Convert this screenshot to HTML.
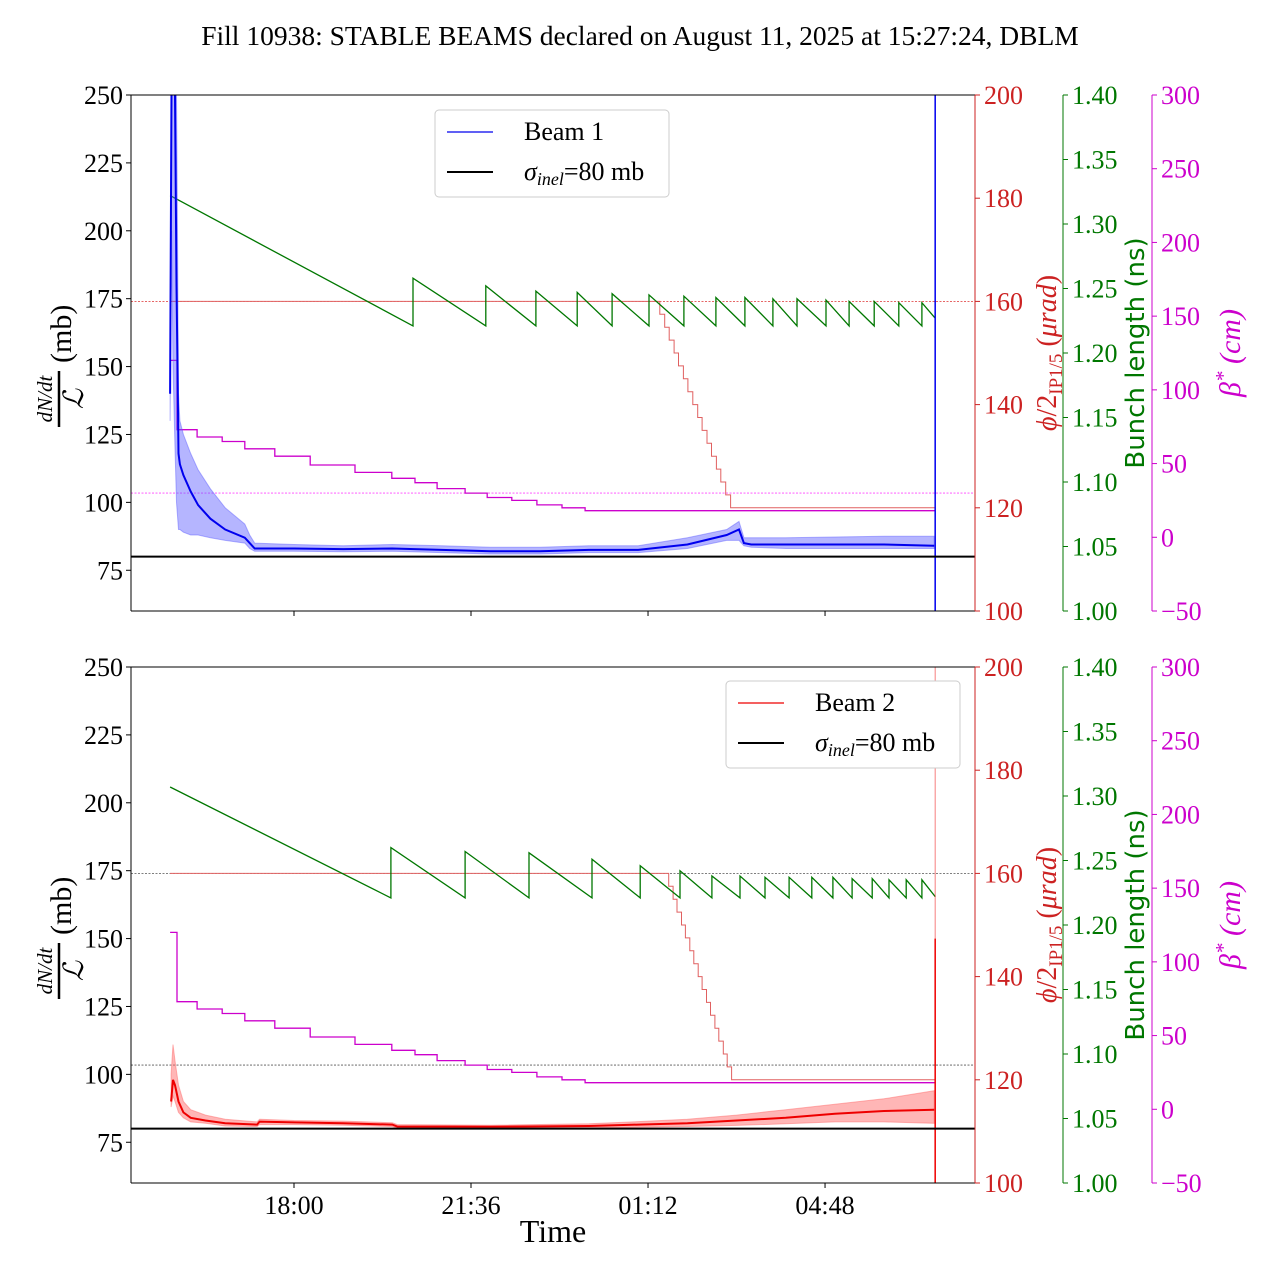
<!DOCTYPE html>
<html><head><meta charset="utf-8"><style>
html,body{margin:0;padding:0;background:#fff;}
svg{display:block;font-family:"Liberation Serif",serif;}
</style></head><body>
<svg id="chart" width="1280" height="1280" viewBox="0 0 1280 1280" xmlns="http://www.w3.org/2000/svg">
<text x="640" y="45" text-anchor="middle" font-size="27.5">Fill 10938: STABLE BEAMS declared on August 11, 2025 at 15:27:24, DBLM</text>
</svg>
<script>
// ---- data (time in hours relative to 18:00) ----
const xTickLabels = ["18:00","21:36","01:12","04:48"];
const xTickHours = [0, 3.6, 7.2, 10.8];
const leftTicks = [75,100,125,150,175,200,225,250];
const redTicks = [100,120,140,160,180,200];
const greenTicks = [1.00,1.05,1.10,1.15,1.20,1.25,1.30,1.35,1.40];
const magTicks = [-50,0,50,100,150,200,250,300];

const b1Times = [-2.52,-2.49,-2.46,-2.42,-2.39,-2.37,-2.35,-2.32,-2.25,-2.1,-1.95,-1.7,-1.4,-1.0,-0.9,-0.8,0,1,2,3,4,5,6,7,8,8.8,9.05,9.15,9.3,10,12,13.02];
const b1Values = [140,260,260,250,180,150,118,114,110,104,99,94,90,87,85,83,83,82.8,83,82.5,82,82,82.5,82.5,84.5,88,90,85,84.5,84.5,84.5,84];
const b1Lo = [130,200,150,120,100,95,90,90,89,88,88,87,86,85,83,82,82,81.8,82,81.5,81,81,81.5,81.5,83,86,86,84,83.5,83,83,83];
const b1Hi = [150,280,280,280,250,200,140,130,125,118,112,105,98,92,88,85,84.5,84,84.5,84,83.5,83.5,84,84,87,90,93,87,87,87,87.5,87.5];

const b2Times = [-2.50,-2.46,-2.42,-2.35,-2.25,-2.1,-1.8,-1.4,-0.75,-0.7,0,1,2,2.1,4,6,7,8,9,10,11,12,13.02];
const b2Values = [90,98,96,90,86,84,83,82,81.5,82.6,82.3,82,81.5,80.8,80.7,81,81.5,82,83,84,85.5,86.5,87];
const b2Lo = [88,92,90,86,84,82.5,82,81,80.8,81.5,81.5,81.3,80.8,80.2,80.2,80.3,80.5,80.8,81.2,81.8,82.5,82.5,82];
const b2Hi = [100,111,105,96,90,87,85,83.5,82.5,83.5,83,82.8,82.2,81.5,81.3,81.8,82.6,83.5,85,87,89,91,94];

const g1Times = [-2.52,2.42,2.42,3.9,3.9,4.92,4.92,5.76,5.76,6.47,6.47,7.22,7.22,7.93,7.93,8.58,8.58,9.17,9.17,9.74,9.74,10.23,10.23,10.82,10.82,11.29,11.29,11.8,11.8,12.3,12.3,12.77,12.77,13.04];
const g1Values = [1.322,1.221,1.258,1.221,1.252,1.221,1.248,1.221,1.247,1.221,1.246,1.221,1.245,1.221,1.244,1.221,1.243,1.221,1.243,1.221,1.242,1.221,1.242,1.221,1.241,1.221,1.240,1.221,1.240,1.221,1.239,1.221,1.239,1.227];
const g2Times = [-2.52,1.97,1.97,3.48,3.48,4.78,4.78,6.06,6.06,7.04,7.04,7.85,7.85,8.5,8.5,9.07,9.07,9.58,9.58,10.07,10.07,10.53,10.53,10.96,10.96,11.35,11.35,11.76,11.76,12.1,12.1,12.45,12.45,12.77,12.77,13.04];
const g2Values = [1.307,1.221,1.260,1.221,1.257,1.221,1.256,1.221,1.251,1.221,1.246,1.221,1.242,1.221,1.238,1.221,1.238,1.221,1.237,1.221,1.237,1.221,1.237,1.221,1.237,1.221,1.236,1.221,1.236,1.221,1.235,1.221,1.235,1.221,1.235,1.222];

const x1Times = [-2.52,7.44,7.54,7.63,7.73,7.82,7.92,8.01,8.11,8.21,8.30,8.40,8.49,8.59,8.68,8.78,8.88,8.97,13.04];
const x1Values = [160,157.5,155,152.5,150,147.5,145,142.5,140,137.5,135,132.5,130,127.5,125,122.5,120,120];
const x2Times = [-2.52,7.62,7.71,7.79,7.88,7.96,8.05,8.13,8.22,8.30,8.39,8.47,8.56,8.64,8.73,8.81,8.90,8.97,13.04];
const x2Values = [160,157.5,155,152.5,150,147.5,145,142.5,140,137.5,135,132.5,130,127.5,125,122.5,120,120];

const bTimes = [-2.52,-2.38,-1.97,-1.46,-1.0,-0.39,0.33,1.24,1.99,2.46,2.91,3.48,3.93,4.43,4.94,5.45,5.92,13.04];
const bValues = [120,73,68,65,60,55,49,44,40,37,33,30,27,25,22,20,18];

// ---- layout ----
const svg = document.getElementById('chart');
const NS = 'http://www.w3.org/2000/svg';
const X0 = 131, X1 = 975;
function xs(h){ return 294 + h*49.17; }
function mk(tag, attrs, parent){
  const e = document.createElementNS(NS, tag);
  for (const k in attrs) e.setAttribute(k, attrs[k]);
  (parent||svg).appendChild(e);
  return e;
}
function scale(lo, hi, top){ return v => top + (hi - v)/(hi - lo)*516; }
function stepPath(ts, vs, sy){
  let d = 'M'+xs(ts[0]).toFixed(1)+','+sy(vs[0]).toFixed(1);
  for (let i=1;i<ts.length;i++){
    d += 'L'+xs(ts[i]).toFixed(1)+','+sy(vs[i-1]).toFixed(1);
    if (i<vs.length) d += 'L'+xs(ts[i]).toFixed(1)+','+sy(vs[i]).toFixed(1);
  }
  return d;
}
function linePath(ts, vs, sy){
  return ts.map((t,i)=>(i?'L':'M')+xs(t).toFixed(1)+','+sy(vs[i]).toFixed(1)).join('');
}
function bandPath(ts, lo, hi, sy){
  let d = ts.map((t,i)=>(i?'L':'M')+xs(t).toFixed(1)+','+sy(hi[i]).toFixed(1)).join('');
  for (let i=ts.length-1;i>=0;i--) d += 'L'+xs(ts[i]).toFixed(1)+','+sy(lo[i]).toFixed(1);
  return d+'Z';
}

function panel(top, cfg){
  const g = mk('g', {});
  
  
  const clipId = 'clip'+top;
  const cp = mk('clipPath', {id: clipId}, g);
  mk('rect', {x:X0, y:top, width:X1-X0, height:516}, cp);
  const L = scale(60, 250, top), R = scale(100, 200, top), G = scale(1.0, 1.4, top), M = scale(-50, 300, top);
  const plot = mk('g', {'clip-path':'url(#'+clipId+')'}, g);

  const r1 = mk('line', {x1:X0, x2:X1, y1:R(160), y2:R(160), stroke:cfg.ref1, 'stroke-width':0.8, 'stroke-dasharray':'2,1.5'}, plot);
  
  
  const r2 = mk('line', {x1:X0, x2:X1, y1:M(30), y2:M(30), stroke:cfg.ref2, 'stroke-width':0.8, 'stroke-dasharray':'2,1.5'}, plot);
  
  

  const xa = mk('path', {d: stepPath(cfg.xt, cfg.xv, R), fill:'none', stroke:'#e06060', 'stroke-width':1}, plot);
  
  
  const bs = mk('path', {d: stepPath(bTimes, bValues, M), fill:'none', stroke:'#cc00cc', 'stroke-width':1.3}, plot);
  
  
  const gl = mk('path', {d: linePath(cfg.gt, cfg.gv, G), fill:'none', stroke:'#007700', 'stroke-width':1.3}, plot);
  
  
  const bd = mk('path', {d: bandPath(cfg.bt, cfg.blo, cfg.bhi, L), fill:cfg.band, stroke:cfg.band, 'stroke-width':1}, plot);
  
  
  const bl = mk('path', {d: linePath(cfg.bt, cfg.bv, L), fill:'none', stroke:cfg.col, 'stroke-width':2}, plot);
  
  
  const ve = mk('line', {x1:xs(13.04), x2:xs(13.04), y1:top, y2:top+516, stroke:cfg.col, 'stroke-width':1, opacity:0.5}, plot);
  
  
  const vs = mk('line', {x1:xs(13.04), x2:xs(13.04), y1:L(cfg.spike), y2:L(60), stroke:cfg.col, 'stroke-width':1.5}, plot);
  
  
  const sl = mk('line', {x1:X0, x2:X1, y1:L(80), y2:L(80), stroke:'#000', 'stroke-width':2}, plot);
  
  

  mk('line', {x1:X0, x2:X1, y1:top, y2:top, stroke:'#000', 'stroke-width':1}, g);
  mk('line', {x1:X0, x2:X1, y1:top+516, y2:top+516, stroke:'#000', 'stroke-width':1}, g);
  mk('line', {x1:X0, x2:X0, y1:top, y2:top+516, stroke:'#000', 'stroke-width':1}, g);
  leftTicks.forEach(v=>{
    mk('line', {x1:X0-5, x2:X0, y1:L(v), y2:L(v), stroke:'#000'}, g);
    const t = mk('text', {x:X0-8, y:L(v)+9, 'text-anchor':'end', 'font-size':26}, g);
    t.textContent = v;
    
    
  });
  xTickHours.forEach((h,i)=>{
    mk('line', {x1:xs(h), x2:xs(h), y1:top+516, y2:top+521, stroke:'#000'}, g);
    if (cfg.labels){
      const t = mk('text', {x:xs(h), y:top+516+31, 'text-anchor':'middle', 'font-size':26}, g);
      t.textContent = xTickLabels[i];
      
      
    }
  });
  const axes = [
    {x:975, ticks:redTicks, s:R, col:'#cc2222', fmt:v=>v, name:'crossing-axis'},
    {x:1063, ticks:greenTicks, s:G, col:'#007700', fmt:v=>v.toFixed(2), name:'bunch-length-axis'},
    {x:1152, ticks:magTicks, s:M, col:'#cc00cc', fmt:v=>(v<0?'\u2212'+(-v):v), name:'beta-star-axis'}
  ];
  axes.forEach(a=>{
    mk('line', {x1:a.x, x2:a.x, y1:top, y2:top+516, stroke:a.col, 'stroke-width':1}, g);
    a.ticks.forEach(v=>{
      mk('line', {x1:a.x, x2:a.x+5, y1:a.s(v), y2:a.s(v), stroke:a.col}, g);
      const t = mk('text', {x:a.x+9, y:a.s(v)+9, 'font-size':26, fill:a.col}, g);
      t.textContent = a.fmt(v);
      
      
    });
  });
  const yl = mk('g', {transform:'translate(62,'+(top+262)+') rotate(-90)'}, g);
  
  
  const n1 = mk('text', {x:-42, y:-10, 'text-anchor':'middle', 'font-size':21, 'font-style':'italic'}, yl); n1.textContent = 'dN/dt';
  mk('line', {x1:-70, x2:-14, y1:-3, y2:-3, stroke:'#000', 'stroke-width':2.5}, yl);
  const n2 = mk('text', {x:-42, y:21, 'text-anchor':'middle', 'font-size':28, 'font-style':'italic'}, yl); n2.textContent = '\u2112';
  const n3 = mk('text', {x:-6, y:9, 'font-size':30}, yl); n3.textContent = '(mb)';
  const rl = mk('text', {transform:'translate(1056,'+(top+258)+') rotate(-90)', 'text-anchor':'middle', 'font-size':28, fill:'#cc2222'}, g);
  rl.innerHTML = '<tspan font-style="italic">\u03d5</tspan>/2<tspan font-size="19" dy="6">IP1/5</tspan><tspan dy="-6"> (</tspan><tspan font-style="italic">\u03bcrad</tspan>)';
  
  
  const gt = mk('text', {transform:'translate(1144,'+(top+258)+') rotate(-90)', 'text-anchor':'middle', 'font-size':26, fill:'#007700', 'font-family':'"DejaVu Sans",sans-serif'}, g);
  gt.textContent = 'Bunch length (ns)';
  
  
  const mt = mk('text', {transform:'translate(1240,'+(top+258)+') rotate(-90)', 'text-anchor':'middle', 'font-size':30, fill:'#cc00cc', 'font-style':'italic'}, g);
  mt.innerHTML = '\u03b2<tspan dy="-10" font-size="21">*</tspan><tspan dy="10"> (cm)</tspan>';
  
  
  const lg = mk('g', {}, g);
  
  
  const lx = cfg.lx, ly = top + cfg.ly;
  mk('rect', {x:lx, y:ly, width:234, height:87, rx:4, fill:'#fff', stroke:'#ccc', 'stroke-width':1}, lg);
  mk('line', {x1:lx+12, x2:lx+58, y1:ly+22, y2:ly+22, stroke:cfg.col, 'stroke-width':1.2}, lg);
  const e1 = mk('text', {x:lx+89, y:ly+30, 'font-size':26}, lg); e1.textContent = cfg.label;
  
  
  mk('line', {x1:lx+12, x2:lx+58, y1:ly+62, y2:ly+62, stroke:'#000', 'stroke-width':2}, lg);
  const e2 = mk('text', {x:lx+89, y:ly+70, 'font-size':26}, lg);
  e2.innerHTML = '<tspan font-style="italic">\u03c3</tspan><tspan font-style="italic" font-size="18" dy="5">inel</tspan><tspan dy="-5">=80 mb</tspan>';
  
  
}

panel(95, {name:'beam1-panel', col:'#0000ee', band:'rgba(90,90,255,0.45)', label:'Beam 1',
  bt:b1Times, bv:b1Values, blo:b1Lo, bhi:b1Hi, gt:g1Times, gv:g1Values, xt:x1Times, xv:x1Values,
  ref1:'#dd3333', ref2:'#ff44ff', spike:250, lx:435, ly:15, labels:false});
panel(667, {name:'beam2-panel', col:'#ee0000', band:'rgba(255,110,110,0.5)', label:'Beam 2',
  bt:b2Times, bv:b2Values, blo:b2Lo, bhi:b2Hi, gt:g2Times, gv:g2Values, xt:x2Times, xv:x2Values,
  ref1:'#555', ref2:'#555', spike:150, lx:726, ly:14, labels:true});

const xt = mk('text', {x:553, y:1242, 'text-anchor':'middle', 'font-size':32});
xt.textContent = 'Time';


</script>
</body></html>
